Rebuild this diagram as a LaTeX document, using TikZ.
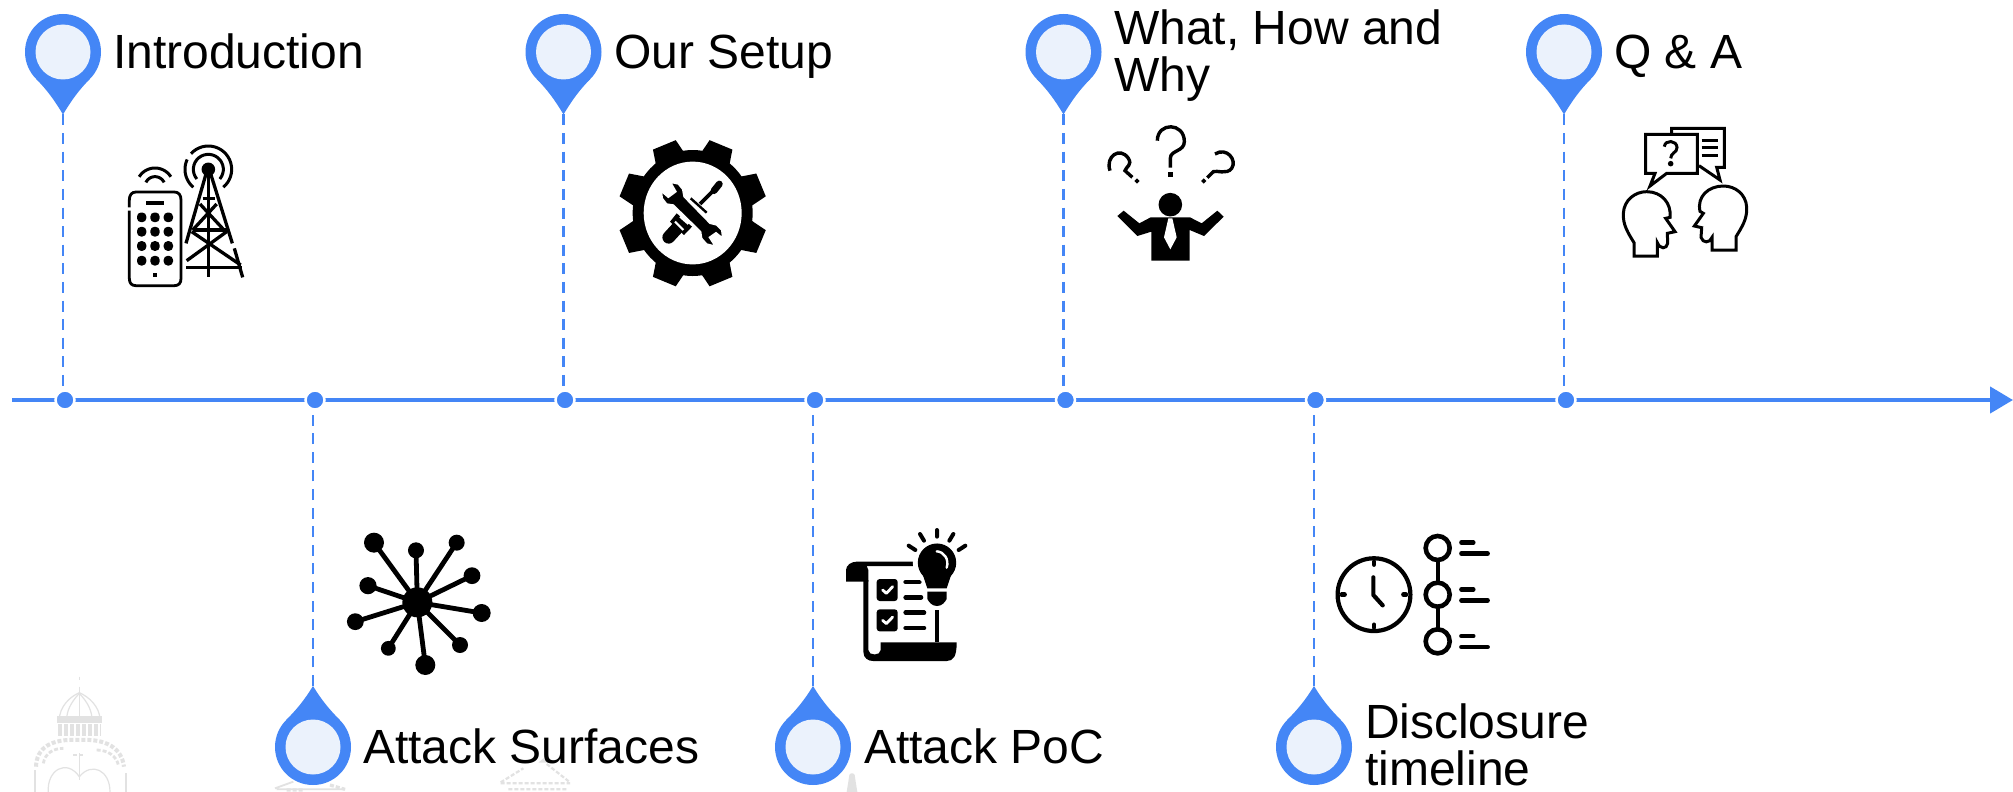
\documentclass[tikz,border=0pt]{standalone}
\usepackage{fontspec}
\setmainfont{Liberation Sans}
\usetikzlibrary{arrows.meta}
\definecolor{tlblue}{HTML}{4486F6}
\definecolor{tlpale}{HTML}{EBF2FC}
\definecolor{wmgray}{HTML}{E2E2E2}
\tikzset{
  axisline/.style={draw=tlblue,line width=2.2pt,-{Triangle[length=11.5pt,width=13pt]}},
  axisdot/.style={circle,fill=tlblue,draw=white,line width=1.25pt,minimum size=9.5pt,inner sep=0pt,outer sep=0pt},
  stem/.style={draw=tlblue,line width=1.4pt,dash pattern=on 5.5pt off 3.8pt},
  pininner/.style={circle,fill=tlpale,minimum size=27.5pt,inner sep=0pt,outer sep=0pt},
  lab/.style={anchor=base west,inner sep=0pt,outer sep=0pt,font=\fontsize{24}{23.5}\selectfont,align=left},
  zoomed/.style={x=0.16667pt,y=-0.16667pt},
  ink/.style={draw=black,line cap=round,line join=round},
  wm/.style={draw=wmgray,line width=0.6pt},
  wmd/.style={draw=wmgray,line width=1.1pt,dash pattern=on 2pt off 1pt},
}
% pin: name, cx, cy, sign of the tip direction (1 down, -1 up), tip length
\newcommand\tlpin[5]{%
  \begin{scope}[shift={(#2,#3)}]
    \fill[tlblue] (0,0) circle[radius=19pt];
    \fill[tlblue] (0,#4*#5) .. controls (-9,#4*#5*0.76) and (-16,#4*38) .. (-26.9,#4*26.9) -- (0,0) -- (26.9,#4*26.9) .. controls (16,#4*38) and (9,#4*#5*0.76) .. (0,#4*#5) -- cycle;
    \coordinate (#1tip) at (0,#4*#5);
  \end{scope}
  \node[pininner] (#1) at (#2,#3) {};
}
\newcommand\tlarc[5]{plot[domain=#4:#5,samples=24] ({#1+#3*cos(\x)},{#2+#3*sin(\x)})}
\begin{document}
\begin{tikzpicture}[x=0.5pt,y=-0.5pt]
\useasboundingbox (0,0) rectangle (2013,792);
\fill[white] (0,0) rectangle (2013,792);

% faint watermark
\begin{scope}[shift={(20,670)},zoomed]
  \draw[wm] (178,20) -- (178,30) (178,50) -- (178,150);
  \draw[wm] (118,150) .. controls (118,110) and (150,80) .. (178,68) .. controls (206,80) and (240,110) .. (240,150);
  \draw[wm] (178,70) .. controls (150,100) and (140,125) .. (140,150) (178,70) .. controls (206,100) and (216,125) .. (216,150);
  \fill[wmgray] (112,138) rectangle (245,158);
  \draw[wmd,line width=3pt] (115,172) -- (242,172) (115,190) -- (242,190);
  \draw[wmd,line width=2pt] (48,290) .. controls (50,235) and (90,205) .. (178,210) .. controls (260,205) and (305,235) .. (312,290);
  \draw[wmd,line width=1.4pt] (70,280) .. controls (75,250) and (100,235) .. (130,235) (230,240) .. controls (265,240) and (290,260) .. (295,285);
  \draw[wm] (45,300) -- (45,366) (318,310) -- (318,366);
  \draw[wm] (85,366) .. controls (80,300) and (140,265) .. (178,320) .. controls (215,275) and (270,300) .. (270,366);
  \draw[wm] (178,250) -- (178,330);
  \draw[wmd] (160,255) -- (195,255);
\end{scope}
\begin{scope}[shift={(260,750)},zoomed]
  \draw[wm,line width=0.9pt] (45,115) -- (100,95) (50,118) -- (255,118);
  \draw[wmd,line width=1.6pt] (80,120) -- (130,120) (210,105) -- (255,118);
  \draw[wmd] (722,97) -- (790,55) (860,42) -- (930,97) (722,100) -- (930,100) (745,118) -- (920,118);
  \fill[wmgray] (835,38) -- (850,25) -- (865,38) -- cycle;
\end{scope}
\begin{scope}[shift={(830,760)},zoomed]
  \fill[wmgray] (50,96) -- (55,65) -- (58,45) .. controls (60,38) and (72,38) .. (74,45) -- (77,65) -- (82,96) -- cycle;
\end{scope}

% axis
\coordinate (axstart) at (12,400);
\coordinate (axend) at (2013,400);
\draw[axisline] (axstart) -- (axend);

% pins
\tlpin{pa}{63}{52}{1}{62.5}
\tlpin{pb}{563.5}{52}{1}{62.5}
\tlpin{pc}{1063.5}{52}{1}{62.5}
\tlpin{pd}{1564}{52}{1}{62.5}
\tlpin{pe}{313}{747}{-1}{61}
\tlpin{pf}{813}{747}{-1}{61}
\tlpin{pg}{1314}{747}{-1}{61}

% stems, then dots
\node[axisdot] (da) at (65,400) {};
\node[axisdot] (de) at (315,400) {};
\node[axisdot] (db) at (565,400) {};
\node[axisdot] (df) at (815,400) {};
\node[axisdot] (dc) at (1065.5,400) {};
\node[axisdot] (dg) at (1315.5,400) {};
\node[axisdot] (dd) at (1566,400) {};
\draw[stem] (patip) -- (patip |- da.north);
\draw[stem] (pbtip) -- (pbtip |- db.north);
\draw[stem] (pctip) -- (pctip |- dc.north);
\draw[stem] (pdtip) -- (pdtip |- dd.north);
\draw[stem] (petip) -- (petip |- de.south);
\draw[stem] (pftip) -- (pftip |- df.south);
\draw[stem] (pgtip) -- (pgtip |- dg.south);

% labels
\node[lab] (la) at (113,69) {Introduction};
\node[lab] (lb) at (614,69) {Our Setup};
\node[lab] (lc) at (1114,45) {What, How and};
\node[lab] (lc2) at (1114,92) {Why};
\node[lab] (ld) at (1614,69) {Q \& A};
\node[lab] (le) at (363,763) {Attack Surfaces};
\node[lab] (lf) at (864,763) {Attack PoC};
\node[lab] (lg) at (1365,738) {Disclosure};
\node[lab] (lg2) at (1365,785) {timeline};

% icon: phone and tower
\begin{scope}[shift={(0,0)},zoomed]
  \draw[ink,line width=1.4pt,line cap=butt] (388,622) -- (388,600) .. controls (388,585) and (395,576) .. (408,576) -- (523,576) .. controls (536,576) and (543,585) .. (543,600) -- (543,835) .. controls (543,850) and (536,857) .. (523,857) -- (408,857) .. controls (395,857) and (388,850) .. (388,835) -- (388,632);
  \fill (438,602) rectangle (492,615);
  \foreach \yy in {652,695,738,782}
    \foreach \xx in {425,465,505}
      \fill[rounded corners=2pt] (\xx-14,\yy-14.5) rectangle (\xx+14,\yy+14.5);
  \fill (458,818) rectangle (472,832);
  \draw[line width=1.5pt] \tlarc{465}{560}{56}{212}{328};
  \draw[line width=1.5pt] \tlarc{465}{560}{30}{205}{335};
  \fill (625,508) circle[radius=3.4pt];
  \draw[line width=1.5pt] \tlarc{625}{508}{70}{130}{205};
  \draw[line width=1.5pt] \tlarc{625}{508}{70}{222}{410};
  \draw[line width=1.5pt] \tlarc{625}{508}{45}{140}{400};
  \begin{scope}[line width=1.65pt]
    \draw (625,510) -- (625,832);
    \draw (620,515) -- (558,730);
    \draw (630,515) -- (697,730) (703,745) -- (728,832);
    \draw (608,596) -- (645,596) (578,690) -- (680,690) (558,803) -- (725,803);
    \draw (578,690) -- (650,612) (672,690) -- (600,612);
    \draw (575,695) -- (722,795) (680,695) -- (560,782);
  \end{scope}
\end{scope}

% icon: gear with tools
\begin{scope}[shift={(500,0)},zoomed]
  \begin{scope}[y=-0.1745pt]
    \foreach \a in {22.5,67.5,...,360}
      \fill[rotate around={\a:(578,611)}] (530,451) -- (541,399) -- (615,399) -- (626,451) -- cycle;
  \end{scope}
  \fill (578,639) ellipse[x radius=30pt,y radius=31.5pt];
  \fill[white] (578,639) ellipse[x radius=24.5pt,y radius=25.7pt];
  % screwdriver
  \draw[line width=6.3pt,line cap=round] (506,712) -- (540,675);
  \fill (530,640) -- (576,680) -- (552,705) -- (510,665) -- cycle;
  \draw[white,line width=1pt] (540,650) -- (565,672) (525,665) -- (550,690);
  \draw[line width=1.8pt] (600,612) -- (642,570);
  \draw[line width=3.4pt,line cap=round] (642,572) -- (658,552);
  \draw[line width=1.2pt] (572,595) -- (620,638);
  % wrench
  \fill[draw=white,line width=0.7pt] (512,547) -- (535,552) -- (548,568) -- (552,590) -- (630,670) -- (650,675) -- (665,690) -- (668,714) -- (648,698) -- (628,712) -- (645,738) -- (620,732) -- (605,715) -- (602,695) -- (520,615) -- (500,612) -- (487,595) -- (484,574) -- (505,592) -- (528,575) -- cycle;
\end{scope}

% icon: shrugging person
\begin{scope}[shift={(1000,0)},zoomed]
  \fill (511,614) circle[radius=5.9pt];
  \fill (454,782) -- (454,695) -- (412,708) -- (352,648) -- (371,632) -- (418,670) -- (452,652) -- (570,652) -- (605,670) -- (652,632) -- (671,650) -- (612,708) -- (569,690) -- (569,782) -- cycle;
  \fill[white] (505,655) -- (517,655) -- (530,712) -- (511,748) -- (492,712) -- cycle;
  \draw[line width=1.7pt] (472,422) .. controls (472,366) and (553,366) .. (553,425) .. controls (553,455) and (511,450) .. (511,475) -- (511,503);
  \fill (504,516) rectangle (518,530);
  \draw[line width=1.7pt] (330,512) .. controls (315,470) and (360,438) .. (385,475) .. controls (398,495) and (378,500) .. (375,512) -- (397,532);
  \fill (411,535) -- (419,543) -- (411,551) -- (403,543) -- cycle;
  \draw[line width=1.7pt] (645,462) .. controls (680,440) and (712,480) .. (695,505) .. controls (680,525) and (650,510) .. (640,515) -- (622,533);
  \fill (611,535) -- (619,543) -- (611,551) -- (603,543) -- cycle;
\end{scope}

% icon: two heads talking
\begin{scope}[shift={(1500,0)},zoomed]
  \begin{scope}[line width=1.5pt,line join=miter]
    \draw (515,403) -- (515,385) -- (673,385) -- (673,502) -- (650,502) -- (660,540) -- (597,497);
    \draw (437,403) -- (592,403) -- (592,520) -- (500,520) -- (450,558) -- (465,520) -- (437,520) -- cycle;
    \draw (605,420) -- (655,420) (605,443) -- (655,443) (605,466) -- (655,466);
    \draw (402,768) -- (402,728) .. controls (385,700) and (368,675) .. (370,640) .. controls (372,600) and (405,575) .. (440,575) .. controls (485,575) and (515,610) .. (510,652) -- (497,655) -- (525,695) -- (502,700) -- (503,730) .. controls (500,748) and (480,748) .. (472,728) -- (472,768) -- cycle;
    \draw (708,750) -- (708,710) .. controls (725,682) and (742,657) .. (740,622) .. controls (738,582) and (705,558) .. (670,558) .. controls (625,558) and (590,590) .. (600,634) -- (610,640) -- (583,678) -- (605,683) -- (603,712) .. controls (608,730) and (630,730) .. (636,712) -- (636,750) -- cycle;
    \draw[line width=1.5pt] (493,440) .. controls (495,418) and (531,420) .. (531,443) .. controls (531,458) and (512,458) .. (512,475);
    \fill (512,491) circle[radius=1.4pt];
  \end{scope}
\end{scope}

% icon: hub and spokes
\begin{scope}[shift={(340,515)},zoomed]
  \fill (232,262) circle[radius=7.5pt];
  \foreach \xx/\yy/\rr in {102/83/5.0,228/106/4.0,350/83/4.0,396/182/4.2,425/294/4.5,360/390/4.0,256/450/5.0,145/400/3.7,46/320/4.2,84/212/4.3}{
    \draw[line width=2.4pt] (232,262) -- (\xx,\yy);
    \fill (\xx,\yy) circle[radius=\rr pt];
  }
\end{scope}

% icon: checklist scroll and bulb
\begin{scope}[shift={(720,400)},zoomed]
  \fill (378,545) -- (378,510) .. controls (378,495) and (395,485) .. (410,485) -- (578,485) -- (590,498) -- (440,498) -- (445,510) -- (445,545) -- cycle;
  \fill (430,540) -- (430,755) .. controls (430,775) and (445,783) .. (460,783) -- (680,783) .. controls (700,783) and (710,770) .. (710,727) -- (482,727) -- (482,750) .. controls (482,768) and (445,768) .. (445,750) -- (445,540) -- cycle;
  \draw[line width=1.7pt] (651,630) -- (651,727);
  \fill[rounded corners=1.5pt] (470,537) rectangle (533,603);
  \fill[rounded corners=1.5pt] (470,628) rectangle (533,694);
  \draw[white,line width=1.4pt,line cap=round,line join=round] (488,570) -- (499,580) -- (518,560);
  \draw[white,line width=1.4pt,line cap=round,line join=round] (488,661) -- (499,671) -- (518,651);
  \draw[line width=2.3pt,line cap=round] (557,546) -- (598,546) (557,592) -- (603,592) (557,638) -- (612,638) (557,684) -- (612,684);
  % bulb
  \draw[white,line width=3pt] (651,488) circle[radius=10.6pt];
  \fill (651,488) circle[radius=9.6pt];
  \fill (607,520) -- (695,520) -- (680,565) -- (622,565) -- cycle;
  \fill (622,575) -- (680,575) -- (680,597) .. controls (675,605) and (668,618) .. (651,618) .. controls (634,618) and (627,605) .. (622,597) -- cycle;
  \draw[white,line width=1.2pt,line cap=round] (650,454) .. controls (672,455) and (688,478) .. (680,503);
  \draw[line width=2pt,line cap=round] (651,390) -- (651,410) (600,402) -- (612,422) (700,402) -- (688,422) (566,437) -- (586,450) (736,437) -- (716,450);
\end{scope}

% icon: clock and timeline
\begin{scope}[shift={(1240,500)},zoomed]
  \draw[line width=2.1pt] (402,284) circle[radius=18.2pt];
  \draw[line width=2.1pt,line cap=round,line join=round] (400,232) -- (400,285) -- (428,316);
  \draw[line width=2.2pt,line cap=round] (402,185) -- (402,194) (402,374) -- (402,383) (305,284) -- (314,284) (490,284) -- (498,284);
  \foreach \yy in {144,284,424}{
    \draw[line width=2.3pt] (593,\yy) circle[radius=6pt];
    \draw[line width=2.2pt,line cap=round] (664,\yy-16) -- (700,\yy-16) (664,\yy+17) -- (743,\yy+17);
  }
  \draw[line width=1.9pt] (593,180) -- (593,248) (593,320) -- (593,388);
\end{scope}
\end{tikzpicture}
\end{document}
